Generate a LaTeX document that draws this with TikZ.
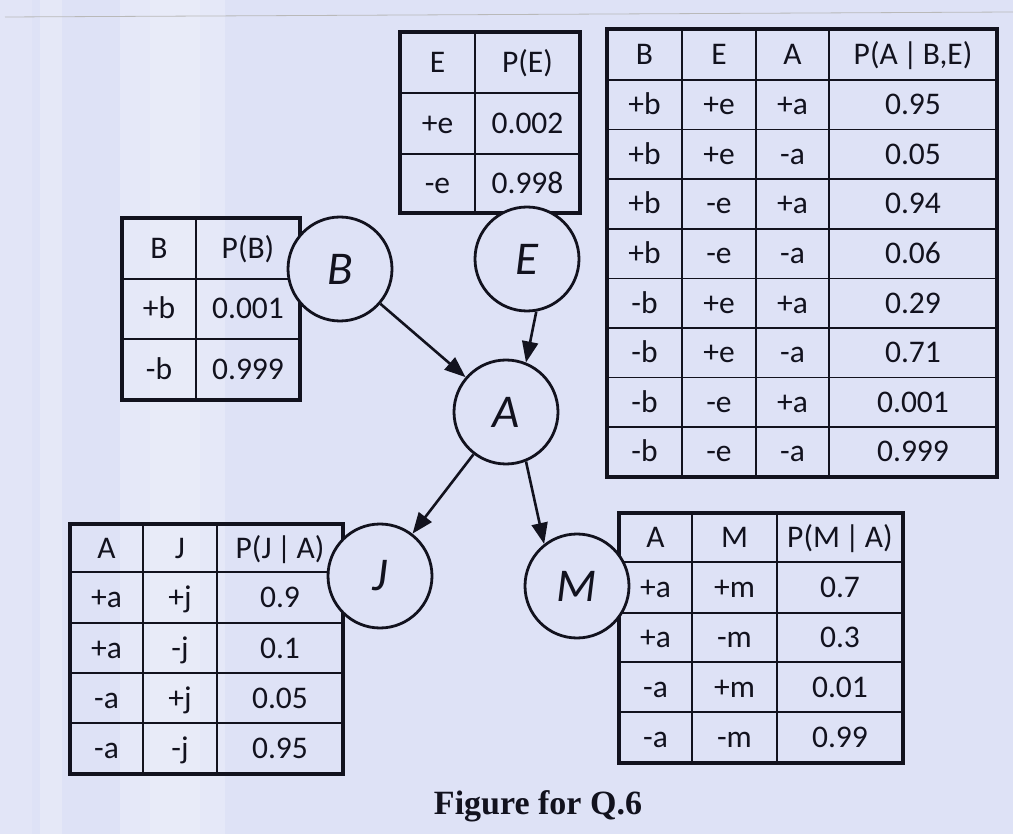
\documentclass[tikz,border=0pt]{standalone}
\usepackage{fontspec}
\setsansfont{Carlito}
\newfontfamily\capfont{Liberation Serif}
\usetikzlibrary{arrows.meta}
\definecolor{bg}{RGB}{222,226,246}
\definecolor{ink}{RGB}{18,18,30}
\begin{document}
\begin{tikzpicture}[x=1pt,y=-1pt,
  outer/.style={draw=ink,line width=3.2pt},
  inner/.style={draw=ink,line width=1.5pt},
  hdr/.style={draw=ink,line width=2.8pt},
  cell/.style={font=\sffamily\fontsize{31.5}{31.5}\selectfont,text=ink,inner sep=0pt,text height=20pt,text depth=0pt},
  var/.style={circle,draw=ink,line width=2.8pt,fill=bg,minimum size=104pt,inner sep=0pt,font=\sffamily\itshape\fontsize{47}{47}\selectfont,text=ink},
  edge/.style={draw=ink,line width=2.6pt,-{Triangle[length=21pt,width=16pt]}},
  band/.style={fill=white,draw=none}
]
\fill[bg] (0,0) rectangle (1013,834);
\useasboundingbox (0,0) rectangle (1013,834);
% photo background
\fill[band,opacity=0.12] (0,0) rectangle (32,834);
\fill[band,opacity=0.22] (40,0) rectangle (62,834);
\fill[band,opacity=0.24] (120,0) rectangle (225,834);
\fill[band,opacity=0.14] (150,0) rectangle (200,834);
\draw[gray!55,line width=0.8pt] (5,17) -- (1013,12);

% ---- table P(B)
\draw[inner] (196,218) -- (196,400);
\draw[inner] (122,339) -- (300,339);
\draw[hdr] (122,279) -- (300,279);
\draw[outer] (122,218) rectangle (300,400);
\foreach \y/\a/\b [count=\i] in {248.5/B/P(B), 309/+b/0.001, 369.5/-b/0.999}{
  \node[cell] (tB-\i-1) at (159,\y) {\a};
  \node[cell] (tB-\i-2) at (248,\y) {\b};
}

% ---- table P(E)
\draw[inner] (475,32) -- (475,213);
\draw[inner] (400,154) -- (580,154);
\draw[hdr] (400,93) -- (580,93);
\draw[outer] (400,32) rectangle (580,213);
\foreach \y/\a/\b [count=\i] in {62.5/E/P(E), 123.5/+e/0.002, 183.5/-e/0.998}{
  \node[cell] (tE-\i-1) at (437.5,\y) {\a};
  \node[cell] (tE-\i-2) at (527.5,\y) {\b};
}

% ---- table P(A|B,E)
\foreach \x in {682,756,829}{\draw[inner] (\x,29) -- (\x,477);}
\foreach \y in {129.6,179.2,228.8,278.4,328,377.6,427.2}{\draw[inner] (607,\y) -- (997,\y);}
\draw[hdr] (607,80) -- (997,80);
\draw[outer] (607,29) rectangle (997,477);
\foreach \y/\a/\b/\c/\d [count=\i] in {54.5/B/E/A/{P(A\,|\,B,E)},
  104.8/+b/+e/+a/0.95, 154.4/+b/+e/-a/0.05, 204/+b/-e/+a/0.94, 253.6/+b/-e/-a/0.06,
  303.2/-b/+e/+a/0.29, 352.8/-b/+e/-a/0.71, 402.4/-b/-e/+a/0.001, 452/-b/-e/-a/0.999}{
  \node[cell] (tA-\i-1) at (644.5,\y) {\a};
  \node[cell] (tA-\i-2) at (719,\y) {\b};
  \node[cell] (tA-\i-3) at (792.5,\y) {\c};
  \node[cell] (tA-\i-4) at (913,\y) {\d};
}

% ---- table P(J|A)
\foreach \x in {143,217}{\draw[inner] (\x,524) -- (\x,774);}
\foreach \y in {623,673,723}{\draw[inner] (70,\y) -- (343,\y);}
\draw[hdr] (70,572) -- (343,572);
\draw[outer] (70,524) rectangle (343,774);
\foreach \y/\a/\b/\c [count=\i] in {548/A/J/{P(J\,|\,A)}, 597.5/+a/+j/0.9, 648/+a/-j/0.1, 698/-a/+j/0.05, 748.5/-a/-j/0.95}{
  \node[cell] (tJ-\i-1) at (106.5,\y) {\a};
  \node[cell] (tJ-\i-2) at (180,\y) {\b};
  \node[cell] (tJ-\i-3) at (280,\y) {\c};
}

% ---- table P(M|A)
\foreach \x in {692,777}{\draw[inner] (\x,513) -- (\x,763);}
\foreach \y in {613,662,712}{\draw[inner] (619,\y) -- (903,\y);}
\draw[hdr] (619,562) -- (903,562);
\draw[outer] (619,513) rectangle (903,763);
\foreach \y/\a/\b/\c [count=\i] in {537.5/A/M/{P(M\,|\,A)}, 587.5/+a/+m/0.7, 637.5/+a/-m/0.3, 687/-a/+m/0.01, 737.5/-a/-m/0.99}{
  \node[cell] (tM-\i-1) at (655.5,\y) {\a};
  \node[cell] (tM-\i-2) at (734.5,\y) {\b};
  \node[cell] (tM-\i-3) at (840,\y) {\c};
}

% ---- network
\node[var] (B) at (340,269) {B};
\node[var] (E) at (527,259) {E};
\node[var] (A) at (506,412) {A};
\node[var] (J) at (380,576) {J};
\node[var] (M) at (577,586) {M};

\draw[edge] (B) -- (A);
\draw[edge] (E.-80) -- (A.68);
\draw[edge] (A) -- (J);
\draw[edge] (A.-68) -- (M.128);

\node[font=\capfont\bfseries\fontsize{34}{34}\selectfont,text=ink] (title) at (538,806) {Figure for Q.6};
\end{tikzpicture}
\end{document}
